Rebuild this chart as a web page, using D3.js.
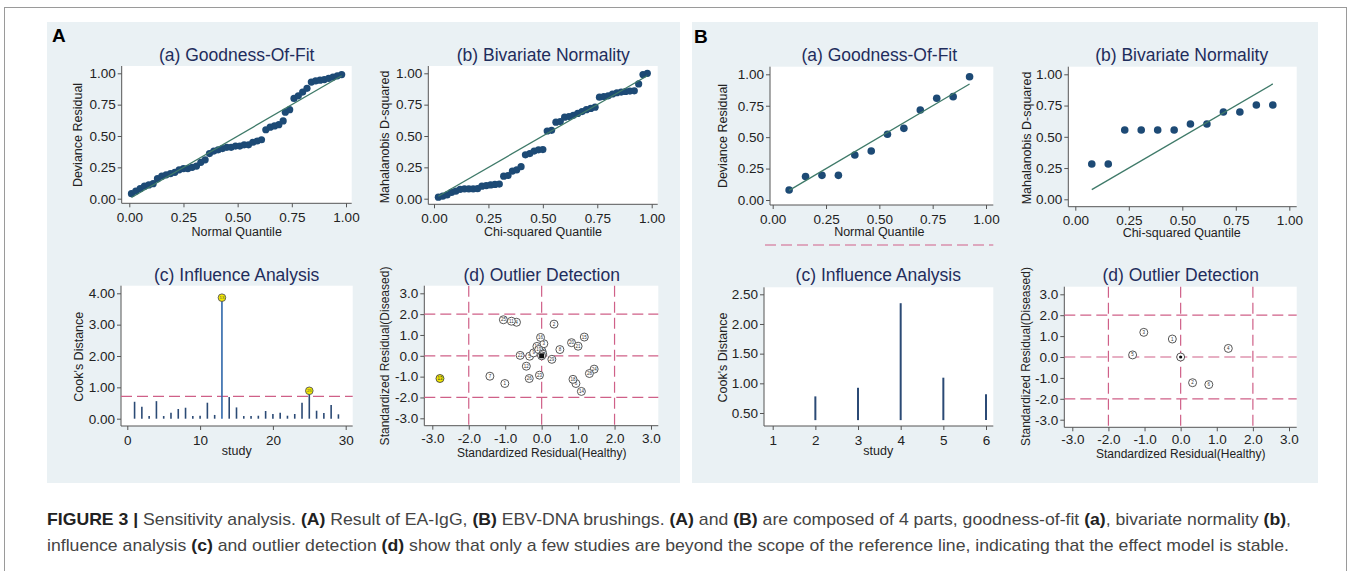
<!DOCTYPE html>
<html>
<head>
<meta charset="utf-8">
<script src="https://d3js.org/d3.v7.min.js"></script>
<style>
body { margin: 0; background: #fff; }
text { font-family: "Liberation Sans", Arial, sans-serif; }
</style>
</head>
<body>
<div id="fig"></div>
<script>
// ---------- data : panel A (EA-IgG) ----------
var quantTicks = [0, 0.25, 0.5, 0.75, 1];
var resTicks = [-3, -2, -1, 0, 1, 2, 3];
var resRef = [-2, 0, 2];

// (a) goodness of fit
var aFitX = [0.01,0.03,0.05,0.07,0.09,0.11,0.13,0.15,0.17,0.19,0.21,0.23,0.25,0.27,0.29,0.31,0.33,0.35,0.37,0.39,
             0.41,0.43,0.45,0.47,0.49,0.51,0.53,0.55,0.57,0.59,0.61,0.63,0.65,0.67,0.69,0.71,0.72,0.74,0.76,0.78,
             0.80,0.82,0.84,0.86,0.88,0.90,0.92,0.94,0.96,0.98];
var aFitY = [0.04,0.06,0.08,0.10,0.11,0.12,0.16,0.18,0.19,0.20,0.21,0.23,0.24,0.24,0.25,0.26,0.29,0.31,0.36,0.38,
             0.39,0.40,0.41,0.41,0.42,0.42,0.43,0.43,0.45,0.46,0.47,0.55,0.57,0.58,0.59,0.62,0.69,0.71,0.80,0.82,
             0.85,0.88,0.93,0.94,0.945,0.95,0.96,0.97,0.98,0.99];

// (b) bivariate normality
var aNormX = [0.02,0.04,0.06,0.08,0.10,0.12,0.14,0.16,0.18,0.20,0.22,0.24,0.26,0.28,0.30,0.32,0.34,0.36,0.38,0.40,
              0.42,0.44,0.46,0.48,0.50,0.52,0.54,0.56,0.58,0.60,0.62,0.64,0.66,0.68,0.70,0.72,0.74,0.76,0.78,0.80,
              0.82,0.84,0.86,0.88,0.90,0.92,0.94,0.96,0.98];
var aNormY = [0.012,0.02,0.03,0.05,0.06,0.075,0.078,0.078,0.078,0.08,0.10,0.105,0.11,0.114,0.117,0.18,0.185,0.22,0.23,0.255,
              0.35,0.36,0.38,0.39,0.392,0.54,0.545,0.61,0.615,0.65,0.655,0.665,0.68,0.695,0.71,0.72,0.73,0.81,0.815,0.82,
              0.835,0.845,0.85,0.855,0.858,0.86,0.915,0.99,1.00];

// (c) influence analysis, study 1..29
var aCook = [0.54,0.38,0.085,0.56,0.085,0.19,0.31,0.35,0.085,0.095,0.51,0.12,3.86,0.69,0.36,0.085,0.085,0.095,0.245,0.15,
             0.19,0.095,0.15,0.51,0.89,0.255,0.18,0.44,0.14];
var aCookCut = 0.71;
var aCookFlag = [13, 25];

// (d) outlier detection, study 1..29
var aOutH = [-1.01,0.34,0.06,-0.69,-0.33,0.94,-1.42,0.50,-0.22,-0.13,-0.83,-0.42,-2.79,1.09,1.17,-0.03,0.01,0.86,-0.08,0.82,
             1.00,-0.59,-0.06,1.44,-1.05,-0.34,0.03,1.31,0.28];
var aOutD = [-1.33,1.52,0.58,1.61,-0.02,-1.33,-0.98,0.30,0.14,0.45,1.66,-0.50,-1.09,-1.71,0.90,0.88,0.22,-1.13,0.30,0.63,
             0.46,0.02,-0.93,-0.64,1.73,-1.09,0.08,-0.85,-0.17];
var aOutFlag = [13];

// ---------- data : panel B (EBV-DNA brushings) ----------
var bFitX = [0.077,0.154,0.231,0.308,0.385,0.462,0.538,0.615,0.692,0.769,0.846,0.923];
var bFitY = [0.08,0.186,0.196,0.196,0.358,0.39,0.523,0.57,0.716,0.809,0.822,0.981];

var bNormX = [0.077,0.154,0.231,0.308,0.385,0.462,0.538,0.615,0.692,0.769,0.846,0.923];
var bNormY = [0.283,0.283,0.555,0.555,0.555,0.555,0.603,0.603,0.699,0.699,0.755,0.755];

var bStudy = [1, 2, 3, 4, 5, 6];
var bCook = [0.38, 0.78, 0.925, 2.35, 1.095, 0.815];
var bCookBase = 0.38;

var bOutH = [-0.23, 0.33, -1.02, 1.32, -1.33, 0.78];
var bOutD = [0.86, -1.23, 1.18, 0.41, 0.10, -1.32];

var caption1 = [["FIGURE 3 |", 1], [" Sensitivity analysis. ", 0], ["(A)", 1], [" Result of EA-IgG, ", 0], ["(B)", 1],
  [" EBV-DNA brushings. ", 0], ["(A)", 1], [" and ", 0], ["(B)", 1], [" are composed of 4 parts, goodness-of-fit ", 0],
  ["(a)", 1], [", bivariate normality ", 0], ["(b)", 1], [",", 0]];
var caption2 = [["influence analysis ", 0], ["(c)", 1], [" and outlier detection ", 0], ["(d)", 1],
  [" show that only a few studies are beyond the scope of the reference line, indicating that the effect model is stable.", 0]];

// ---------- drawing ----------
var navy = "#1d4a75", teal = "#3f7a69", pink = "#cf6088", titleCol = "#1f2d5c";

var svg = d3.select("#fig").append("svg").attr("width", 1357).attr("height", 571);

svg.append("rect").attr("x", 4.5).attr("y", 7.5).attr("width", 1342).attr("height", 620)
  .attr("fill", "none").attr("stroke", "#9a9a9a");

svg.append("rect").attr("x", 47).attr("y", 22).attr("width", 633).attr("height", 461).attr("fill", "#eaf1f4");
svg.append("rect").attr("x", 692).attr("y", 22).attr("width", 626).attr("height", 461).attr("fill", "#eaf1f4");

svg.append("text").attr("x", 52).attr("y", 42).attr("font-size", 19).attr("font-weight", "bold").text("A");
svg.append("text").attr("x", 694).attr("y", 43).attr("font-size", 19).attr("font-weight", "bold").text("B");

function subplot(c) {
  var g = svg.append("g");
  var labSize = c.labSize || 12.5;
  var pad = c.pad === undefined ? 5 : c.pad;
  g.append("rect").attr("x", c.box[0]).attr("y", c.box[1])
    .attr("width", c.box[2] - c.box[0]).attr("height", c.box[3] - c.box[1]).attr("fill", "#fff");
  var x = d3.scaleLinear().domain(c.xd).range(c.xr);
  var y = d3.scaleLinear().domain(c.yd).range(c.yr);
  g.append("g").attr("transform", "translate(" + c.box[0] + ",0)")
    .call(d3.axisLeft(y).tickValues(c.yt).tickFormat(function(d) { return d.toFixed(c.yf); })
      .tickSize(4).tickPadding(2))
    .attr("font-size", 13.5);
  g.append("g").attr("transform", "translate(0," + c.box[3] + ")")
    .call(d3.axisBottom(x).tickValues(c.xt).tickFormat(function(d) { return d.toFixed(c.xf); })
      .tickSize(4).tickPadding(pad))
    .attr("font-size", 13.5);
  g.selectAll(".domain").remove();
  g.selectAll(".tick line").attr("stroke", "#555");
  g.selectAll(".tick text").attr("fill", "#222");
  g.append("path").attr("d", "M" + c.box[0] + "," + c.box[1] + "V" + c.box[3] + "H" + c.box[2])
    .attr("fill", "none").attr("stroke", "#555");

  g.append("text").attr("x", c.title[1]).attr("y", c.title[2]).attr("text-anchor", "middle")
    .attr("font-size", 17.5).attr("fill", titleCol).text(c.title[0]);
  g.append("text").attr("x", c.xlab[1]).attr("y", c.xlab[2]).attr("text-anchor", "middle")
    .attr("font-size", labSize).attr("fill", "#222").text(c.xlab[0]);
  g.append("text").attr("transform", "translate(" + c.ylab[1] + "," + c.ylab[2] + ")rotate(-90)")
    .attr("text-anchor", "middle").attr("font-size", labSize).attr("fill", "#222").text(c.ylab[0]);
  return {g: g, x: x, y: y};
}

function qqPlot(c, xs, ys, r) {
  var p = subplot(c);
  var lo = d3.min(xs), hi = d3.max(xs);
  p.g.selectAll(".dot").data(xs).enter().append("circle")
    .attr("cx", function(d) { return p.x(d); })
    .attr("cy", function(d, i) { return p.y(ys[i]); })
    .attr("r", r).attr("fill", navy);
  p.g.append("line").attr("x1", p.x(lo)).attr("y1", p.y(lo)).attr("x2", p.x(hi)).attr("y2", p.y(hi))
    .attr("stroke", teal).attr("stroke-width", 1.3);
  return p;
}

function outlierPlot(c, hs, ds, flag, centerSquare) {
  var p = subplot(c);
  resRef.forEach(function(v) {
    p.g.append("line").attr("x1", p.x(v)).attr("x2", p.x(v)).attr("y1", c.box[1]).attr("y2", c.box[3])
      .attr("stroke", pink).attr("stroke-width", 1.2).attr("stroke-dasharray", "11,5");
    p.g.append("line").attr("y1", p.y(v)).attr("y2", p.y(v)).attr("x1", c.box[0]).attr("x2", c.box[2])
      .attr("stroke", pink).attr("stroke-width", 1.2).attr("stroke-dasharray", "11,5");
  });
  var pts = p.g.selectAll(".pt").data(hs).enter().append("g")
    .attr("transform", function(d, i) { return "translate(" + p.x(d) + "," + p.y(ds[i]) + ")"; });
  pts.append("circle").attr("r", 4)
    .attr("fill", function(d, i) { return flag.indexOf(i + 1) >= 0 ? "#f2e800" : "#fff"; })
    .attr("stroke", "#444").attr("stroke-width", 0.9);
  pts.append("text").attr("text-anchor", "middle").attr("dy", "0.35em").attr("font-size", 4.5)
    .attr("fill", "#333").text(function(d, i) { return i + 1; });
  var cg = p.g.append("g").attr("transform", "translate(" + p.x(0) + "," + p.y(0) + ")");
  cg.append("circle").attr("r", 4).attr("fill", "#fff").attr("stroke", "#444").attr("stroke-width", 0.9);
  if (centerSquare) {
    cg.append("rect").attr("x", -2.5).attr("y", -2.5).attr("width", 5).attr("height", 5).attr("fill", "#111");
  } else {
    cg.append("circle").attr("r", 1.6).attr("fill", "#111");
  }
  return p;
}

// ---- A (a)
qqPlot({box: [121.7, 66, 351.7, 203.3], xd: [0, 1], xr: [129.3, 346], yd: [0, 1], yr: [198.7, 73.3],
  xt: quantTicks, yt: quantTicks, xf: 2, yf: 2,
  title: ["(a) Goodness-Of-Fit", 236.7, 60.5], xlab: ["Normal Quantile", 236.7, 236],
  ylab: ["Deviance Residual", 82, 135]}, aFitX, aFitY, 3.6);

// ---- A (b)
qqPlot({box: [428.3, 66, 657.7, 204.3], xd: [0, 1], xr: [434, 651.7], yd: [0, 1], yr: [198.7, 73.3],
  xt: quantTicks, yt: quantTicks, xf: 2, yf: 2,
  title: ["(b) Bivariate Normality", 543.3, 60.5], xlab: ["Chi-squared Quantile", 543, 236],
  ylab: ["Mahalanobis D-squared", 388.5, 137]}, aNormX, aNormY, 3.6);

// ---- A (c)
(function() {
  var c = {box: [121, 285.7, 352.7, 426], xd: [0, 30], xr: [127.3, 345.7], yd: [0, 4], yr: [418.7, 293.3],
    xt: [0, 10, 20, 30], yt: [0, 1, 2, 3, 4], xf: 0, yf: 2,
    title: ["(c) Influence Analysis", 236.7, 280.5], xlab: ["study", 236.7, 455],
    ylab: ["Cook's Distance", 82.5, 356.7]};
  var p = subplot(c);
  p.g.append("line").attr("x1", c.box[0]).attr("x2", c.box[2]).attr("y1", p.y(aCookCut)).attr("y2", p.y(aCookCut))
    .attr("stroke", pink).attr("stroke-width", 1.2).attr("stroke-dasharray", "11,5");
  p.g.selectAll(".spike").data(aCook).enter().append("line")
    .attr("x1", function(d, i) { return p.x(i + 1); }).attr("x2", function(d, i) { return p.x(i + 1); })
    .attr("y1", p.y(0)).attr("y2", function(d) { return p.y(d); })
    .attr("stroke", function(d, i) { return i + 1 === 13 ? "#2f67aa" : "#2b4a75"; })
    .attr("stroke-width", 1.6);
  var m = p.g.selectAll(".flag").data(aCookFlag).enter().append("g")
    .attr("transform", function(s) { return "translate(" + p.x(s) + "," + p.y(aCook[s - 1]) + ")"; });
  m.append("circle").attr("r", 3.8).attr("fill", "#f2e800").attr("stroke", "#555").attr("stroke-width", 0.9);
  m.append("text").attr("text-anchor", "middle").attr("dy", "0.35em").attr("font-size", 4.2).attr("fill", "#555")
    .text(function(s) { return s; });
})();

// ---- A (d)
outlierPlot({box: [424.3, 285.7, 658.3, 425.7], xd: [-3, 3], xr: [432.3, 651], yd: [-3, 3], yr: [418.3, 293.3],
  xt: resTicks, yt: resTicks, xf: 1, yf: 1, labSize: 12, pad: 3.5,
  title: ["(d) Outlier Detection", 541.7, 280.5], xlab: ["Standardized Residual(Healthy)", 541.7, 456.5],
  ylab: ["Standardized Residual(Diseased)", 389.3, 356]}, aOutH, aOutD, aOutFlag, true);

// ---- B (a)
qqPlot({box: [770, 66.7, 993.3, 205], xd: [0, 1], xr: [772.7, 986], yd: [0, 1], yr: [200, 74.3],
  xt: quantTicks, yt: quantTicks, xf: 2, yf: 2,
  title: ["(a) Goodness-Of-Fit", 879.3, 60.7], xlab: ["Normal Quantile", 879.3, 235.5],
  ylab: ["Deviance Residual", 727.3, 136]}, bFitX, bFitY, 3.8);
svg.append("line").attr("x1", 765).attr("x2", 993.3).attr("y1", 245).attr("y2", 245)
  .attr("stroke", pink).attr("stroke-width", 1.1).attr("stroke-dasharray", "11,5");

// ---- B (b)
qqPlot({box: [1068.3, 66.7, 1296.7, 206.7], xd: [0, 1], xr: [1075.3, 1289.3], yd: [0, 1], yr: [199.3, 74.3],
  xt: quantTicks, yt: quantTicks, xf: 2, yf: 2,
  title: ["(b) Bivariate Normality", 1181.7, 60.7], xlab: ["Chi-squared Quantile", 1181.7, 237],
  ylab: ["Mahalanobis D-squared", 1030.5, 138]}, bNormX, bNormY, 3.8);

// ---- B (c)
(function() {
  var c = {box: [764, 287.3, 993.3, 426], xd: [1, 6], xr: [772.7, 986], yd: [0.5, 2.5], yr: [413, 294.3],
    xt: bStudy, yt: [0.5, 1, 1.5, 2, 2.5], xf: 0, yf: 2,
    title: ["(c) Influence Analysis", 878.3, 280.7], xlab: ["study", 878.3, 455],
    ylab: ["Cook's Distance", 727.3, 357.5]};
  var p = subplot(c);
  p.g.selectAll(".spike").data(bCook).enter().append("line")
    .attr("x1", function(d, i) { return p.x(bStudy[i]); }).attr("x2", function(d, i) { return p.x(bStudy[i]); })
    .attr("y1", p.y(bCookBase)).attr("y2", function(d) { return p.y(d); })
    .attr("stroke", "#2b4a75").attr("stroke-width", 2);
})();

// ---- B (d)
outlierPlot({box: [1064.3, 286.7, 1296.7, 427.3], xd: [-3, 3], xr: [1072.3, 1289], yd: [-3, 3], yr: [419.7, 294.3],
  xt: resTicks, yt: resTicks, xf: 1, yf: 1, labSize: 12, pad: 3.5,
  title: ["(d) Outlier Detection", 1180.7, 280.7], xlab: ["Standardized Residual(Healthy)", 1180.7, 457.5],
  ylab: ["Standardized Residual(Diseased)", 1030, 356.5]}, bOutH, bOutD, [], false);

// ---- caption
function captionLine(parts, yPos, len) {
  var t = svg.append("text").attr("x", 47).attr("y", yPos).attr("font-size", 17)
    .attr("textLength", len).attr("lengthAdjust", "spacingAndGlyphs").style("white-space", "pre")
    .style("font-family", "'Liberation Sans Narrow', 'Liberation Sans', Arial, sans-serif");
  parts.forEach(function(p) {
    t.append("tspan").attr("font-weight", p[1] ? "bold" : "normal")
      .attr("fill", p[1] ? "#222" : "#444").text(p[0]);
  });
}
captionLine(caption1, 525, 1244);
captionLine(caption2, 551, 1242);
</script>
</body>
</html>
